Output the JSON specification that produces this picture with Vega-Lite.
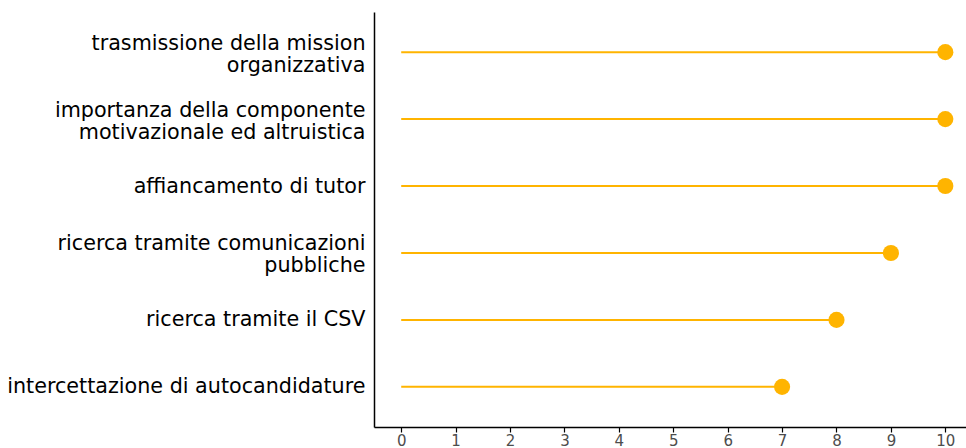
{
  "$schema": "https://vega.github.io/schema/vega-lite/v6.json",
  "autosize": {"type": "none"},
  "padding": {"left": 374, "top": 12, "right": 0, "bottom": 21},
  "width": 592,
  "height": 415,
  "background": "white",
  "config": {"view": {"stroke": null}, "font": "DejaVu Sans"},
  "data": {"values": [
    {"item": "trasmissione della mission\norganizzativa", "value": 10},
    {"item": "importanza della componente\nmotivazionale ed altruistica", "value": 10},
    {"item": "affiancamento di tutor", "value": 10},
    {"item": "ricerca tramite comunicazioni\npubbliche", "value": 9},
    {"item": "ricerca tramite il CSV", "value": 8},
    {"item": "intercettazione di autocandidature", "value": 7}
  ]},
  "encoding": {
    "y": {
      "field": "item", "type": "nominal", "sort": null,
      "scale": {"type": "point", "padding": 0.6},
      "axis": {
        "title": null, "ticks": false, "grid": false,
        "domainColor": "black", "domainWidth": 1.5,
        "labelFont": "DejaVu Sans",
        "labelFontSize": 20.7, "labelColor": "black", "labelPadding": 9,
        "labelLineHeight": 22, "labelLimit": 400,
        "labelOffset": {"condition": {"test": "indexof(datum.value, '\\n') >= 0", "value": -9}, "value": 0},
        "labelExpr": "split(datum.label, '\\n')"
      }
    },
    "x": {
      "field": "value", "type": "quantitative",
      "scale": {"domain": [-0.5, 10.38], "nice": false, "zero": false},
      "axis": {
        "title": null, "grid": false, "values": [0,1,2,3,4,5,6,7,8,9,10],
        "domainColor": "black", "domainWidth": 1.5,
        "tickColor": "black", "tickSize": 5, "tickWidth": 1.2,
        "labelFont": "DejaVu Sans",
        "labelFontSize": 15, "labelColor": "#4d4d4d", "labelPadding": 1
      }
    }
  },
  "layer": [
    {
      "mark": {"type": "rule", "color": "#FFB400", "strokeWidth": 2},
      "encoding": {
        "x2": {"datum": 0}
      }
    },
    {
      "mark": {"type": "circle", "color": "#FFB400", "opacity": 1, "size": 260},
      "encoding": {}
    }
  ]
}
